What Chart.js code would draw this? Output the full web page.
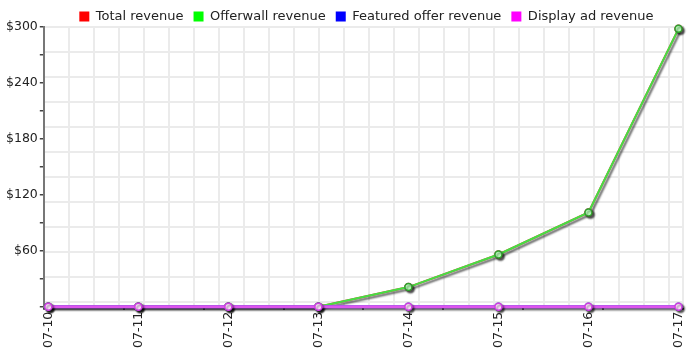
<!DOCTYPE html>
<html><head><meta charset="utf-8">
<script src="https://cdn.jsdelivr.net/npm/chart.js@4"></script>
<style>html,body{margin:0;padding:0;background:#fff}#wrap{width:698px;height:358px}</style>
</head><body><div id="wrap"><canvas id="c" width="698" height="358"></canvas></div>
<script>
const categories = ['07-10','07-11','07-12','07-13','07-14','07-15','07-16','07-17'];
const totalRevenue = [0,0,0,0,21,56,101,298];
const offerwallRevenue = [0,0,0,0,21,56,101,298];
const featuredOfferRevenue = [0,0,0,0,0,0,0,0];
const displayAdRevenue = [0,0,0,0,0,0,0,0];
const seriesNames = ['Total revenue','Offerwall revenue','Featured offer revenue','Display ad revenue'];
const yTickLabels = [60,120,180,240,300];

const legendColors = ['#ff0000','#00ff00','#0000ff','#ff00ff'];
const lineColors = ['#ee3333','#44e044','#3333ee','#dd55ee'];
const pointFills = ['#ffcccc','#b8ffb8','#ccccff','#ffe0ff'];
const pointBorders = ['#bb3333','#2f9f2f','#3333bb','#d040e0'];
const lineWidths = [2,2,3,3];

Chart.defaults.font.family = "'DejaVu Sans', Verdana, sans-serif";
Chart.defaults.font.size = 12.5;
Chart.defaults.color = '#222';

const toPts = arr => arr.map((v,i)=>({x:i,y:v}));
const allSeries = [totalRevenue, offerwallRevenue, featuredOfferRevenue, displayAdRevenue];

const datasets = allSeries.map((s,i)=>({
  label: seriesNames[i],
  data: toPts(s),
  xAxisID: 'x',
  yAxisID: 'y',
  borderColor: lineColors[i],
  backgroundColor: legendColors[i],
  borderWidth: lineWidths[i],
  pointRadius: 3.5,
  pointBorderWidth: 1.5,
  pointBackgroundColor: pointFills[i],
  pointBorderColor: pointBorders[i],
  tension: 0,
  fill: false,
  clip: false,
  order: 3 - i
}));

const shadowPlugin = {
  id: 'lineShadow',
  beforeDatasetDraw(chart){ const ctx = chart.ctx; ctx.save(); ctx.shadowColor='rgba(0,0,0,0.38)'; ctx.shadowBlur=2; ctx.shadowOffsetX=2; ctx.shadowOffsetY=2; },
  afterDatasetDraw(chart){ chart.ctx.restore(); }
};
const legendFit = {
  id: 'legendFit',
  beforeLayout(chart){
    const l = chart.legend;
    if (l && !l._patched){ const f = l.fit; l.fit = function(){ f.call(this); this.height -= 6; }; l._patched = true; }
  },
  afterLayout(chart){
    const l = chart.legend;
    if (l){ l.left += 3; l.right += 3; }
  }
};

new Chart(document.getElementById('c'), {
  type: 'line',
  data: { datasets },
  options: {
    responsive: false,
    devicePixelRatio: 1,
    animation: false,
    layout: { padding: { left: 4, right: 15, top: 0, bottom: 8 } },
    plugins: {
      tooltip: { enabled: false },
      legend: {
        position: 'top',
        fullSize: false,
        labels: {
          boxWidth: 10, boxHeight: 10, padding: 10,
          color: '#222',
          font: { size: 13 },
          sort: (a,b) => a.datasetIndex - b.datasetIndex,
          generateLabels: chart => Chart.defaults.plugins.legend.labels.generateLabels(chart).map(l => ({...l, fillStyle: legendColors[l.datasetIndex], strokeStyle: legendColors[l.datasetIndex], lineWidth: 0}))
        }
      }
    },
    scales: {
      x: {
        type: 'linear', position: 'bottom', weight: 1,
        min: -0.05, max: 7.05,
        grid: { display: false, drawTicks: false },
        border: { display: false },
        ticks: { stepSize: 1, includeBounds: false, autoSkip: false, minRotation: 90, maxRotation: 90, padding: 2, color: '#222',
          callback: v => categories[v] !== undefined ? categories[v] : '' }
      },
      tx: {
        type: 'linear', axis: 'x', position: 'bottom', weight: 0,
        min: 0, max: 8,
        grid: { drawOnChartArea: false, tickLength: 3, tickColor: '#444', lineWidth: 2 },
        border: { display: true, color: '#777', width: 2 },
        ticks: { display: false, stepSize: 1 }
      },
      gx: {
        type: 'linear', axis: 'x', position: 'top',
        min: 0, max: 25.56,
        grid: { drawTicks: false, color: '#ebebeb', lineWidth: 2 },
        border: { display: false },
        ticks: { display: false, stepSize: 1, includeBounds: false }
      },
      gy: {
        type: 'linear', axis: 'y', position: 'right', reverse: true,
        min: 0, max: 11.2,
        grid: { drawTicks: false, color: '#ebebeb', lineWidth: 2 },
        border: { display: true, color: '#ebebeb', width: 2 },
        ticks: { display: false, stepSize: 1, includeBounds: false }
      },
      y: {
        type: 'linear', position: 'left',
        min: 0, max: 300,
        grid: { drawOnChartArea: false, tickLength: 4, tickColor: '#444', lineWidth: 1.5 },
        border: { display: true, color: '#777', width: 2 },
        ticks: { stepSize: 30, padding: 2, color: '#222',
          callback: v => yTickLabels.includes(v) ? '$' + v : '' }
      }
    }
  },
  plugins: [shadowPlugin, legendFit]
});
</script></body></html>
